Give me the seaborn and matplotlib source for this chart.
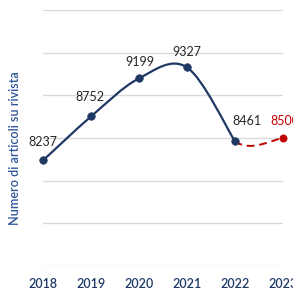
"""
Numero di articoli su rivista per anno (2023 stimato)
"""
import matplotlib.pyplot as plt
import matplotlib
import seaborn as sns
import pandas as pd
from matplotlib.path import Path
from matplotlib.patches import PathPatch

sns.set_style("white")
matplotlib.rcParams["font.family"] = ["Lato", "DejaVu Sans"]

# data
years = [2018, 2019, 2020, 2021, 2022]
articles = [8237, 8752, 9199, 9327, 8461]
est_years = [2021, 2022, 2023]  # 2021 only shapes the curve, it is not drawn
est_articles = [9327, 8461, 8500]
tick_years = [2018, 2019, 2020, 2021, 2022, 2023]

NAVY = "#1f3864"
RED = "#c00000"


def smooth_segments(xs, ys):
    # excel-like smoothed line: catmull-rom turned into cubic bezier pieces
    pts = list(zip(xs, ys))
    segs = []
    for i in range(len(pts) - 1):
        p0 = pts[max(i - 1, 0)]
        p1 = pts[i]
        p2 = pts[i + 1]
        p3 = pts[min(i + 2, len(pts) - 1)]
        c1 = (p1[0] + (p2[0] - p0[0]) / 6, p1[1] + (p2[1] - p0[1]) / 6)
        c2 = (p2[0] - (p3[0] - p1[0]) / 6, p2[1] - (p3[1] - p1[1]) / 6)
        segs.append((p1, c1, c2, p2))
    return segs


def to_path(segs):
    verts, codes = [segs[0][0]], [Path.MOVETO]
    for _, c1, c2, p in segs:
        verts += [c1, c2, p]
        codes += [Path.CURVE4] * 3
    return Path(verts, codes)


fig = plt.figure(figsize=(2.93, 2.90), dpi=100)
ax = fig.add_axes([43 / 293, 1 - 266 / 290, 240 / 293, 256 / 290])

ax.add_patch(PathPatch(to_path(smooth_segments(years, articles)), fill=False,
                       edgecolor=NAVY, lw=1.6, zorder=2))
ax.add_patch(PathPatch(to_path(smooth_segments(est_years, est_articles)[-1:]), fill=False,
                       edgecolor=RED, lw=1.4, ls=(0, (4, 2.5)), zorder=2))

df = pd.DataFrame({"year": years, "n": articles})
sns.scatterplot(data=df, x="year", y="n", ax=ax, color=NAVY, s=30, edgecolor=NAVY,
                zorder=3, clip_on=False)
ax.scatter([est_years[-1]], [est_articles[-1]], color=RED, s=22, zorder=3, clip_on=False)

offsets = [(0, 18), (-1, 19), (1, 16), (0, 15), (12, 20)]
for x, y, off in zip(years, articles, offsets):
    ax.annotate(str(y), (x, y), xytext=off, textcoords="offset pixels",
                ha="center", va="center", fontsize=9, color="#262626", annotation_clip=False)
ax.annotate(str(est_articles[-1]), (est_years[-1], est_articles[-1]), xytext=(2, 17),
            textcoords="offset pixels", ha="center", va="center", fontsize=9, color=RED,
            annotation_clip=False)

ax.set_xlim(2018, 2023)
ax.set_ylim(7000, 10000)
ax.set_yticks(range(7000, 10001, 500))
ax.set_yticklabels([])
ax.set_xticks(tick_years)
ax.set_xticklabels([str(t) for t in tick_years], fontsize=9, color=NAVY, fontweight="semibold")
ax.tick_params(axis="both", length=0)
ax.tick_params(axis="x", pad=9)
ax.grid(axis="y", color="#d9d9d9", lw=1)
ax.set_xlabel("")
ax.set_ylabel("")
sns.despine(ax=ax, left=True, bottom=True)

fig.text(15 / 293, 1 - 148 / 290, "Numero di articoli su rivista", rotation=90,
         ha="center", va="center", fontsize=9, fontweight="semibold", color="#2f5597")

plt.savefig("out.png", dpi=100)
